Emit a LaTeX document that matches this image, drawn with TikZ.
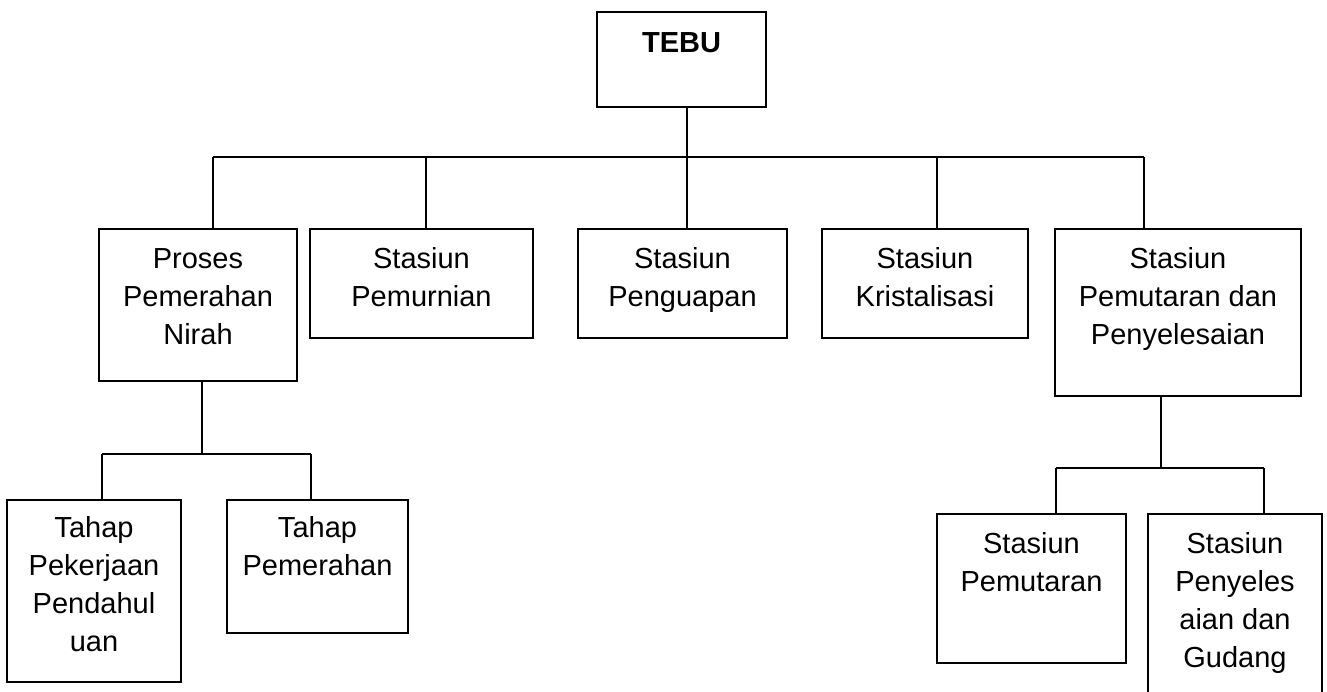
\documentclass[tikz,border=0pt]{standalone}
\usepackage{fontspec}
\setmainfont{Liberation Sans}
\begin{document}
\begin{tikzpicture}[x=1pt,y=-1pt,
  bx/.style={draw=black, line width=1.8pt, inner sep=0pt, outer sep=0pt},
  txt/.style={anchor=north, inner sep=0pt, align=center, font=\fontsize{29}{38}\selectfont},
  con/.style={draw=black, line width=1.8pt}]
\useasboundingbox (0,0) rectangle (1327,691);
\clip (0,0) rectangle (1327,691);
% boxes
\node[bx, minimum width=169pt, minimum height=95pt,
  label={[txt]north:{\rule{0pt}{40pt}\textbf{TEBU}}}] (tebu) at (681.5,59.5) {};
\node[bx, minimum width=198pt, minimum height=152pt,
  label={[txt]north:{\rule{0pt}{39pt}Proses\\Pemerahan\\Nirah}}] (proses) at (198,305) {};
\node[bx, minimum width=223pt, minimum height=109pt,
  label={[txt]north:{\rule{0pt}{39pt}Stasiun\\Pemurnian}}] (pemurnian) at (421.5,283.5) {};
\node[bx, minimum width=209pt, minimum height=109pt,
  label={[txt]north:{\rule{0pt}{39pt}Stasiun\\Penguapan}}] (penguapan) at (682.5,283.5) {};
\node[bx, minimum width=206pt, minimum height=109pt,
  label={[txt]north:{\rule{0pt}{39pt}Stasiun\\Kristalisasi}}] (kristal) at (925,283.5) {};
\node[bx, minimum width=246pt, minimum height=167pt,
  label={[txt]north:{\rule{0pt}{39pt}Stasiun\\Pemutaran dan\\Penyelesaian}}] (pemutaran) at (1178,312.5) {};
\node[bx, minimum width=174pt, minimum height=182pt,
  label={[txt]north:{\rule{0pt}{37pt}Tahap\\Pekerjaan\\Pendahul\\uan}}] (tahapa) at (94,591) {};
\node[bx, minimum width=181pt, minimum height=133pt,
  label={[txt]north:{\rule{0pt}{37pt}Tahap\\Pemerahan}}] (tahapb) at (317.5,566.5) {};
\node[bx, minimum width=189pt, minimum height=149pt,
  label={[txt]north:{\rule{0pt}{39pt}Stasiun\\Pemutaran}}] (stpem) at (1031.5,588.5) {};
\node[bx, minimum width=174pt, minimum height=206pt,
  label={[txt]north:{\rule{0pt}{39pt}Stasiun\\Penyeles\\aian dan\\Gudang}}] (stpeny) at (1235,617) {};
% junction coordinates
\coordinate (j0) at (687,157);
\coordinate (b1) at (213,157);
\coordinate (b2) at (426,157);
\coordinate (b3) at (687,157);
\coordinate (b4) at (937,157);
\coordinate (b5) at (1144,157);
\coordinate (p0) at (202,454);
\coordinate (p1) at (102,454);
\coordinate (p2) at (311,454);
\coordinate (q0) at (1161,468);
\coordinate (q1) at (1056,468);
\coordinate (q2) at (1264,468);
% connectors
\draw[con] (tebu.south -| j0) -- (j0);
\draw[con] (b1) -- (b5);
\draw[con] (b1) -- (b1 |- proses.north);
\draw[con] (b2) -- (b2 |- pemurnian.north);
\draw[con] (b3) -- (b3 |- penguapan.north);
\draw[con] (b4) -- (b4 |- kristal.north);
\draw[con] (b5) -- (b5 |- pemutaran.north);
\draw[con] (proses.south -| p0) -- (p0);
\draw[con] (p1) -- (p2);
\draw[con] (p1) -- (p1 |- tahapa.north);
\draw[con] (p2) -- (p2 |- tahapb.north);
\draw[con] (pemutaran.south -| q0) -- (q0);
\draw[con] (q1) -- (q2);
\draw[con] (q1) -- (q1 |- stpem.north);
\draw[con] (q2) -- (q2 |- stpeny.north);
\end{tikzpicture}
\end{document}
